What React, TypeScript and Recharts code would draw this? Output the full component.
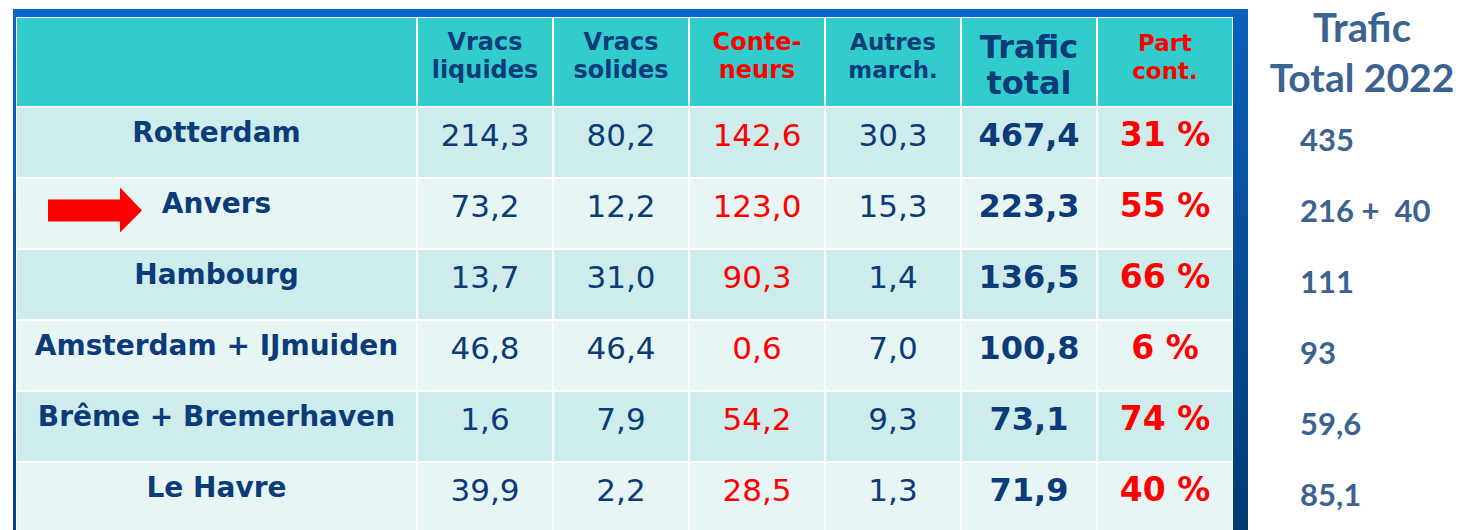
import { ScatterChart, Scatter, XAxis, YAxis } from 'recharts';

// ports (rows) and traffic columns, millions of tonnes
const ports = ['Rotterdam', 'Anvers', 'Hambourg', 'Amsterdam + IJmuiden', 'Brême + Bremerhaven', 'Le Havre'];
const columns = ['liq', 'sol', 'cont', 'autres', 'total', 'part'];
const headerLines = [
  ['Vracs', 'liquides'],
  ['Vracs', 'solides'],
  ['Conte-', 'neurs'],
  ['Autres', 'march.'],
  ['Trafic', 'total'],
  ['Part', 'cont.'],
];
const vracsLiquides = [214.3, 73.2, 13.7, 46.8, 1.6, 39.9];
const vracsSolides = [80.2, 12.2, 31.0, 46.4, 7.9, 2.2];
const conteneurs = [142.6, 123.0, 90.3, 0.6, 54.2, 28.5];
const autresMarch = [30.3, 15.3, 1.4, 7.0, 9.3, 1.3];
const traficTotal = [467.4, 223.3, 136.5, 100.8, 73.1, 71.9];
const partCont = [31, 55, 66, 6, 74, 40];
const trafic2022 = ['435', '216 +  40', '111', '93', '59,6', '85,1'];
const highlighted = 'Anvers';

const W = 1461;
const H = 540;
const M = { top: 17, right: 0, bottom: 7, left: 16 };
const LABEL_W = 401;
const SIDE_W = 228;
const HEADER_H = 90;
const CELL_W = (W - M.left - M.right - LABEL_W - SIDE_W) / columns.length;
const CELL_H = (H - M.top - M.bottom - HEADER_H) / ports.length;

const NAVY = '#0b3b78';
const RED = '#ff0000';
const TEAL = '#33cccc';
const ROW_A = '#cdeceb';
const ROW_B = '#e7f5f5';
const SIDE = '#3b6392';
const FONT = '"DejaVu Sans", Verdana, sans-serif';
const SIDE_FONT = 'Lato, "Open Sans", sans-serif';

const colStyle: Record<string, { color: string; bold: boolean; size: number }> = {
  liq: { color: NAVY, bold: false, size: 31 },
  sol: { color: NAVY, bold: false, size: 31 },
  cont: { color: RED, bold: false, size: 31 },
  autres: { color: NAVY, bold: false, size: 31 },
  total: { color: NAVY, bold: true, size: 32 },
  part: { color: RED, bold: true, size: 33 },
};
const headStyle: Record<string, { color: string; size: number; base: number[] }> = {
  liq: { color: NAVY, size: 24, base: [57, 29] },
  sol: { color: NAVY, size: 24, base: [57, 29] },
  cont: { color: RED, size: 24, base: [57, 29] },
  autres: { color: NAVY, size: 23, base: [57, 29] },
  total: { color: NAVY, size: 32, base: [49, 13] },
  part: { color: RED, size: 23, base: [56, 28] },
};

const series = [vracsLiquides, vracsSolides, conteneurs, autresMarch, traficTotal, partCont];
const cells = ports.flatMap((row, ri) =>
  columns.map((col, ci) => ({ row, col, ri, value: series[ci][ri] }))
);
const sideRows = ports.map((row) => ({ row, col: columns[0] }));

const fmt = (col: string, v: number) =>
  col === 'part' ? `${v} %` : v.toFixed(1).replace('.', ',');

function CellShape(props: any) {
  const { cx, cy, payload } = props;
  const st = colStyle[payload.col];
  return (
    <g>
      <rect
        x={cx - CELL_W / 2 + 1}
        y={cy - CELL_H / 2 + 1}
        width={CELL_W - 2}
        height={CELL_H - 2}
        fill={payload.ri % 2 === 0 ? ROW_A : ROW_B}
      />
      <text
        x={cx}
        y={cy + 3.5}
        textAnchor="middle"
        fontFamily={FONT}
        fontSize={st.size}
        fontWeight={st.bold ? 700 : 400}
        fill={st.color}
      >
        {fmt(payload.col, payload.value)}
      </text>
    </g>
  );
}

function HeaderTick(props: any) {
  const { x, y, payload } = props;
  const ci = columns.indexOf(payload.value);
  const st = headStyle[payload.value];
  return (
    <g>
      <rect x={x - CELL_W / 2 + 1} y={y - 89} width={CELL_W - 2} height={88} fill={TEAL} />
      {headerLines[ci].map((line, i) => (
        <text
          key={i}
          x={x}
          y={y - st.base[i]}
          textAnchor="middle"
          fontFamily={FONT}
          fontSize={st.size}
          fontWeight={700}
          fill={st.color}
        >
          {line}
        </text>
      ))}
    </g>
  );
}

function PortTick(props: any) {
  const { x, y, payload } = props;
  const ri = ports.indexOf(payload.value);
  const left = x - LABEL_W + 1;
  return (
    <g>
      <rect x={left} y={y - CELL_H / 2 + 1} width={LABEL_W - 2} height={CELL_H - 2} fill={ri % 2 === 0 ? ROW_A : ROW_B} />
      {payload.value === highlighted && (
        <polygon
          points={`${left + 31},${y - 14} ${left + 103},${y - 14} ${left + 103},${y - 26} ${left + 125},${y - 3} ${left + 103},${y + 19} ${left + 103},${y + 8} ${left + 31},${y + 8}`}
          fill="#ff0000"
        />
      )}
      <text
        x={x - LABEL_W / 2}
        y={y - 0.5}
        textAnchor="middle"
        fontFamily={FONT}
        fontSize={28}
        fontWeight={700}
        fill={NAVY}
      >
        {payload.value}
      </text>
    </g>
  );
}

function SideTick(props: any) {
  const { x, y, payload } = props;
  const ri = ports.indexOf(payload.value);
  return (
    <text
      x={x + 67}
      y={y + 8}
      fontFamily={SIDE_FONT}
      fontSize={31}
      fontWeight={700}
      fill={SIDE}
      style={{ whiteSpace: 'pre' }}
    >
      {trafic2022[ri]}
    </text>
  );
}

function SideTitle(props: any) {
  const vb = props.viewBox;
  const cx = vb.x + 129;
  return (
    <g>
      <text x={cx} y={vb.y - 65} textAnchor="middle" fontFamily={SIDE_FONT} fontSize={40} fontWeight={700} fill={SIDE}>
        Trafic
      </text>
      <text x={cx} y={vb.y - 15} textAnchor="middle" fontFamily={SIDE_FONT} fontSize={39} fontWeight={700} fill={SIDE}>
        Total 2022
      </text>
    </g>
  );
}

export default function App() {
  return (
    <div style={{ position: 'absolute', left: 0, top: 0, width: W, height: 530, overflow: 'hidden', background: '#fff' }}>
      {/* blue slide frame */}
      <div style={{ position: 'absolute', left: 13, top: 9, width: 1235, height: 8, background: '#0066cc' }} />
      <div style={{ position: 'absolute', left: 13, top: 9, width: 3, height: 530, background: 'linear-gradient(#1262c4, #0a3f80)' }} />
      <div style={{ position: 'absolute', left: 1233, top: 9, width: 15, height: 530, background: 'linear-gradient(#0a60bb, #003a73)' }} />
      <div style={{ position: 'absolute', left: 17, top: 18, width: 399, height: 88, background: TEAL }} />
      <div style={{ position: 'absolute', left: 0, top: 0 }}>
        <ScatterChart width={W} height={H} margin={M}>
          <XAxis
            type="category"
            dataKey="col"
            scale="band"
            orientation="top"
            allowDuplicatedCategory={false}
            height={HEADER_H}
            interval={0}
            tickSize={0}
            tickMargin={0}
            axisLine={false}
            tickLine={false}
            tick={<HeaderTick />}
          />
          <YAxis
            yAxisId="main"
            type="category"
            dataKey="row"
            scale="band"
            reversed
            allowDuplicatedCategory={false}
            width={LABEL_W}
            interval={0}
            tickSize={0}
            tickMargin={0}
            axisLine={false}
            tickLine={false}
            tick={<PortTick />}
          />
          <YAxis
            yAxisId="side"
            orientation="right"
            type="category"
            dataKey="row"
            scale="band"
            reversed
            allowDuplicatedCategory={false}
            width={SIDE_W}
            interval={0}
            tickSize={0}
            tickMargin={0}
            axisLine={false}
            tickLine={false}
            tick={<SideTick />}
            label={{ content: <SideTitle /> }}
          />
          <Scatter yAxisId="main" data={cells} shape={<CellShape />} isAnimationActive={false} />
          <Scatter yAxisId="side" data={sideRows} shape={() => <g />} isAnimationActive={false} />
        </ScatterChart>
      </div>
    </div>
  );
}
